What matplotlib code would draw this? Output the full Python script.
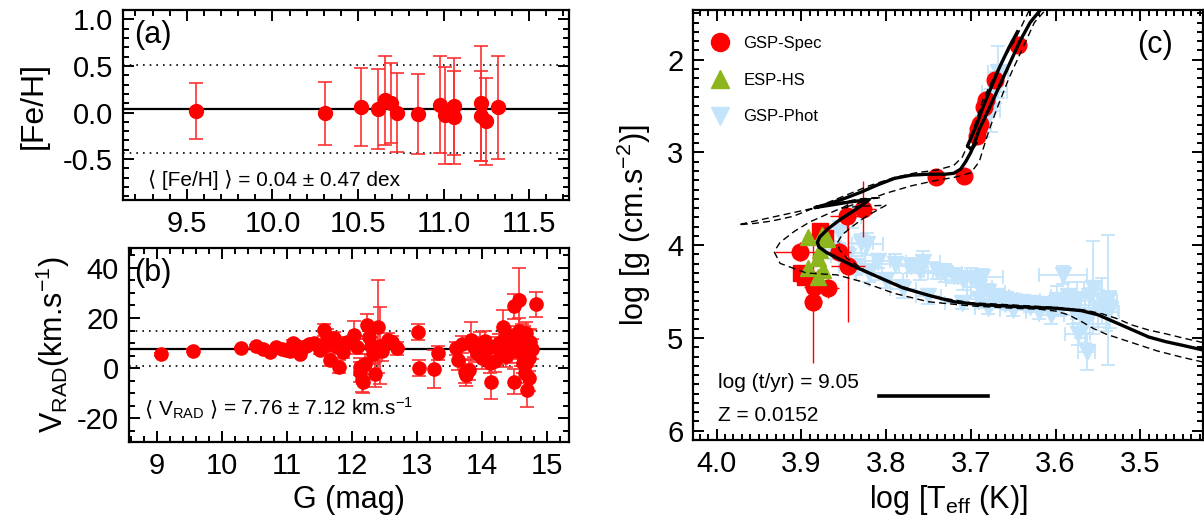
import numpy as np
import matplotlib
matplotlib.use("Agg")
import matplotlib.pyplot as plt
from matplotlib.ticker import MultipleLocator
from matplotlib.lines import Line2D
from matplotlib.offsetbox import TextArea, HPacker, AnchoredOffsetbox

plt.rcParams['font.family'] = ['Liberation Sans', 'DejaVu Sans']
plt.rcParams['mathtext.fontset'] = 'custom'
plt.rcParams['mathtext.rm'] = 'Liberation Sans'
plt.rcParams['mathtext.it'] = 'Liberation Sans:italic'
plt.rcParams['axes.unicode_minus'] = False

RED = '#ff0000'
GREEN = '#8db51e'
BLUE = '#c4e4fb'

# ---- panel (a): [Fe/H] vs G ----
g_a = [9.556, 10.305, 10.516, 10.617, 10.655, 10.695, 10.73, 10.85,
       10.98, 11.01, 11.06, 11.06, 11.22, 11.22, 11.25, 11.32]
feh_a = [0.02, -0.01, 0.06, 0.035, 0.13, 0.10, 0.0, -0.015,
         0.083, -0.03, -0.05, 0.065, 0.098, -0.036, -0.094, 0.054]
err_a = [0.30, 0.34, 0.42, 0.43, 0.48, 0.43, 0.42, 0.43,
         0.52, 0.52, 0.50, 0.52, 0.62, 0.48, 0.47, 0.55]
feh_mean, feh_sd = 0.04, 0.47

# ---- panel (b): Vrad vs G ----
g_b = [9.06, 9.56, 10.30, 10.52, 10.63, 10.74, 10.84, 10.92, 10.99, 11.05,
       11.09, 11.15, 11.20, 11.24, 11.30, 11.34, 11.42, 11.51,
       11.56, 11.58, 11.62, 11.65, 11.66, 11.72, 11.76, 11.81, 11.86, 11.92,
       11.97, 12.04, 12.08, 12.12, 12.13, 12.15, 12.18, 12.20, 12.24, 12.27,
       12.30, 12.33, 12.36, 12.40, 12.43, 12.46, 12.55, 12.62, 12.70,
       13.02, 13.04, 13.27, 13.32,
       13.61, 13.63, 13.70, 13.74, 13.76, 13.80, 13.84, 13.88, 13.92, 13.97,
       14.00, 14.05, 14.08, 14.12, 14.14, 14.20, 14.22, 14.26, 14.30, 14.32,
       14.36, 14.38, 14.40, 14.43, 14.46, 14.50, 14.50, 14.52, 14.55, 14.57,
       14.58, 14.60, 14.62, 14.64, 14.65, 14.66, 14.68, 14.68, 14.70, 14.72,
       14.72, 14.73, 14.75, 14.78, 14.84]
v_b = [5.5, 7.0, 7.9, 8.7, 7.5, 6.6, 8.3, 7.6, 7.3, 6.8,
       10.2, 9.0, 5.5, 8.0, 8.8, 9.8, 10.0, 7.3,
       8.5, 15.2, 12.5, 9.5, 3.3, 12.0, 9.0, 0.6, 6.5, 10.5,
       10.3, 13.3, 8.5, 0.6, -1.5, -4.7, -5.5, 1.5, 17.2, 12.5,
       9.0, 5.5, -2.5, 16.6, 9.0, 7.0, 11.2, 10.5, 7.9,
       14.6, 0.1, -0.4, 6.2,
       7.9, 3.2, 9.5, -1.4, -2.7, -0.8, 11.2, 8.5, 6.0, 9.5,
       4.0, 11.0, 7.5, 2.0, -5.4, 3.0, 8.5, 10.0, 6.5, 16.6,
       12.0, 5.0, 9.0, 13.0, 7.0, 24.6, -5.4, 11.0, 9.5, 15.0,
       27.2, 6.0, 12.5, 2.0, 12.4, -2.0, 1.9, 14.0, -8.7, -4.0,
       10.2, 4.0, 10.5, 7.5, 25.5]
e_b = [0.6, 0.6, 0.6, 0.7, 0.7, 0.7, 0.7, 0.8, 0.8, 0.8,
       0.9, 0.9, 1.0, 1.0, 1.0, 1.1, 1.3, 1.5,
       2.0, 2.5, 3.0, 2.5, 2.5, 2.5, 3.0, 2.5, 2.5, 2.0,
       2.0, 5.5, 3.0, 3.5, 4.0, 5.0, 4.5, 4.0, 4.5, 4.0,
       3.5, 4.0, 5.0, 18.5, 15.5, 4.0, 3.0, 2.5, 2.5,
       3.2, 3.3, 7.5, 2.8,
       2.5, 4.0, 3.5, 4.5, 4.5, 4.0, 7.4, 4.0, 3.5, 5.0,
       4.5, 4.0, 3.5, 4.0, 7.0, 4.5, 4.0, 3.5, 5.0, 6.4,
       4.5, 4.5, 3.5, 4.0, 5.0, 5.0, 5.0, 4.0, 6.0, 5.0,
       12.7, 5.0, 5.0, 4.0, 4.5, 4.0, 4.0, 4.5, 6.7, 5.0,
       5.0, 5.0, 5.0, 4.0, 5.0]
v_mean, v_sd = 7.76, 7.12

# ---- panel (c): Kiel diagram ----
iso_teff = [3.426, 3.45, 3.47, 3.49, 3.51, 3.53, 3.55, 3.57, 3.60, 3.63,
            3.66, 3.69, 3.72, 3.75, 3.78, 3.81, 3.835, 3.855, 3.87, 3.879,
            3.881, 3.878, 3.868, 3.855, 3.84, 3.827, 3.82,
            3.84, 3.86, 3.884,
            3.87, 3.85, 3.83, 3.81, 3.79, 3.77, 3.75, 3.73, 3.72, 3.712,
            3.706, 3.70, 3.695, 3.69, 3.682, 3.672, 3.662, 3.652, 3.642,
            3.63, 3.618]
iso_logg = [5.13, 5.08, 5.04, 4.99, 4.91, 4.83, 4.75, 4.705, 4.68, 4.67,
            4.655, 4.64, 4.61, 4.54, 4.46, 4.34, 4.24, 4.15, 4.08, 4.02,
            3.97, 3.91, 3.82, 3.73, 3.64, 3.56, 3.51,
            3.53, 3.56, 3.595,
            3.56, 3.50, 3.43, 3.35, 3.28, 3.245, 3.235, 3.235, 3.225, 3.18,
            3.10, 3.00, 2.88, 2.75, 2.60, 2.40, 2.20, 2.00, 1.80,
            1.60, 1.466]
agb_teff = [3.694, 3.699, 3.704, 3.700, 3.693, 3.686, 3.676, 3.666, 3.655, 3.645]
agb_logg = [2.90, 2.97, 2.93, 2.85, 2.70, 2.52, 2.30, 2.08, 1.87, 1.70]

dashA_teff = [3.426, 3.45, 3.48, 3.50, 3.52, 3.54, 3.555, 3.57, 3.585, 3.60,
              3.62, 3.65, 3.70, 3.75, 3.79, 3.83, 3.858, 3.894, 3.925, 3.932,
              3.925, 3.908, 3.89, 3.87, 3.85, 3.836, 3.806,
              3.83, 3.86, 3.90, 3.935, 3.96, 3.974,
              3.955, 3.935, 3.91, 3.885, 3.855, 3.82, 3.79, 3.765, 3.74, 3.72,
              3.71, 3.705, 3.695, 3.686, 3.668, 3.648, 3.631]
dashA_logg = [5.26, 5.21, 5.14, 5.08, 5.02, 4.96, 4.90, 4.82, 4.75, 4.71,
              4.69, 4.68, 4.655, 4.61, 4.52, 4.39, 4.32, 4.30, 4.196, 4.07,
              3.97, 3.85, 3.75, 3.668, 3.59, 3.523, 3.487,
              3.50, 3.55, 3.63, 3.70, 3.75, 3.78,
              3.765, 3.74, 3.69, 3.60, 3.49, 3.36, 3.27, 3.22, 3.19, 3.14,
              3.05, 2.95, 2.70, 2.44, 2.10, 1.79, 1.466]

dashB_teff = [3.426, 3.45, 3.47, 3.49, 3.51, 3.528, 3.545, 3.565, 3.60, 3.65,
              3.70, 3.74, 3.77, 3.80, 3.825, 3.845, 3.855, 3.857, 3.852, 3.84,
              3.825, 3.81, 3.80,
              3.83, 3.852,
              3.83, 3.80, 3.77, 3.74, 3.72, 3.70, 3.69, 3.685, 3.678, 3.668,
              3.655, 3.64, 3.625, 3.612]
dashB_logg = [5.05, 5.00, 4.955, 4.915, 4.86, 4.79, 4.74, 4.70, 4.67, 4.645,
              4.62, 4.56, 4.48, 4.38, 4.27, 4.15, 4.05, 3.97, 3.89, 3.80,
              3.70, 3.62, 3.57,
              3.58, 3.60,
              3.54, 3.44, 3.36, 3.30, 3.27, 3.22, 3.10, 2.95, 2.75, 2.50,
              2.20, 1.90, 1.60, 1.466]

spec_teff = [3.644, 3.671, 3.682, 3.684, 3.689, 3.691, 3.693, 3.741, 3.708,
             3.846, 3.827, 3.901, 3.856, 3.845, 3.886, 3.868, 3.885]
spec_logg = [1.845, 2.22, 2.44, 2.51, 2.69, 2.75, 2.82, 3.27, 3.25,
             3.69, 3.61, 4.07, 4.07, 4.225, 4.61, 4.465, 4.45]
spec_eteff = [0.004, 0.004, 0.005, 0.005, 0.005, 0.005, 0.005, 0.005, 0.005,
              0.02, 0.015, 0.03, 0.015, 0.02, 0.01, 0.012, 0.012]
spec_elogg = [0.05, 0.05, 0.06, 0.06, 0.06, 0.06, 0.06, 0.05, 0.05,
              0.15, 0.3, 0.1, 0.1, 0.6, 0.66, 0.1, 0.1]

sq_teff = [3.878, 3.872, 3.896, 3.90, 3.885]
sq_logg = [3.85, 3.92, 4.34, 4.30, 4.38]

hs_teff = [3.892, 3.876, 3.870, 3.880, 3.892, 3.874, 3.880, 3.878]
hs_logg = [3.91, 3.89, 3.93, 4.14, 4.25, 4.27, 4.34, 4.05]

phot_teff = [3.668, 3.676, 3.686, 3.672, 3.855, 3.83, 3.822, 3.84, 3.86, 3.845,
             3.81, 3.79, 3.77, 3.756, 3.74, 3.73, 3.72, 3.709, 3.70, 3.687,
             3.69, 3.68, 3.67, 3.66, 3.65, 3.64, 3.63, 3.62, 3.61, 3.60,
             3.595, 3.591, 3.585, 3.58, 3.575, 3.574, 3.57, 3.565, 3.563, 3.56,
             3.556, 3.55, 3.545, 3.54, 3.538, 3.536, 3.598, 3.605, 3.62, 3.65,
             3.68, 3.71, 3.75, 3.78, 3.80, 3.82, 3.835, 3.76, 3.69, 3.66, 3.63]
phot_logg = [2.13, 2.55, 2.68, 2.35, 3.86, 3.98, 3.99, 3.70, 4.05, 4.12,
             4.17, 4.20, 4.22, 4.18, 4.28, 4.30, 4.33, 4.38, 4.35, 4.34,
             4.45, 4.50, 4.55, 4.58, 4.60, 4.61, 4.62, 4.63, 4.64, 4.62,
             4.66, 4.32, 4.55, 4.70, 4.60, 4.96, 4.75, 4.85, 5.15, 4.55,
             4.46, 4.68, 4.60, 4.72, 4.59, 4.69, 4.59, 4.75, 4.72, 4.70,
             4.68, 4.62, 4.55, 4.47, 4.38, 4.30, 4.22, 4.28, 4.58, 4.63, 4.67]
phot_eteff = [0.012, 0.010, 0.008, 0.015, 0.01, 0.015, 0.018, 0.01, 0.012, 0.02,
              0.015, 0.02, 0.015, 0.02, 0.015, 0.02, 0.015, 0.02, 0.015, 0.025,
              0.015, 0.02, 0.015, 0.015, 0.02, 0.015, 0.015, 0.015, 0.015, 0.02,
              0.015, 0.028, 0.02, 0.015, 0.01, 0.015, 0.02, 0.015, 0.01, 0.015,
              0.01, 0.015, 0.01, 0.015, 0.01, 0.01, 0.02, 0.015, 0.015, 0.015,
              0.015, 0.02, 0.015, 0.015, 0.02, 0.015, 0.02, 0.015, 0.015, 0.015, 0.02]
phot_elogg = [0.28, 0.23, 0.15, 0.12, 0.12, 0.10, 0.12, 0.12, 0.10, 0.10,
              0.08, 0.10, 0.08, 0.12, 0.08, 0.10, 0.08, 0.10, 0.10, 0.08,
              0.10, 0.08, 0.06, 0.05, 0.05, 0.05, 0.05, 0.05, 0.06, 0.08,
              0.10, 0.10, 0.15, 0.15, 0.20, 0.12, 0.25, 0.20, 0.20, 0.15,
              0.50, 0.20, 0.25, 0.20, 0.70, 0.20, 0.15, 0.10, 0.08, 0.06,
              0.06, 0.07, 0.08, 0.10, 0.08, 0.10, 0.10, 0.10, 0.05, 0.05, 0.05]

legend_line_teff = [3.808, 3.68]
legend_line_logg = [5.63, 5.63]

TICK = 21


def style(ax, xmaj, xmin, ymaj, ymin):
    ax.xaxis.set_major_locator(MultipleLocator(xmaj))
    ax.xaxis.set_minor_locator(MultipleLocator(xmin))
    ax.yaxis.set_major_locator(MultipleLocator(ymaj))
    ax.yaxis.set_minor_locator(MultipleLocator(ymin))
    ax.tick_params(which='both', direction='in', top=True, right=True,
                   width=1.4, labelsize=TICK)
    ax.tick_params(which='major', length=8, pad=7)
    ax.tick_params(which='minor', length=4)
    for s in ax.spines.values():
        s.set_linewidth(1.6)


fig = plt.figure(figsize=(12.04, 5.23), dpi=100)

# panel (a)
ax1 = fig.add_axes([0.102, 0.6176, 0.371, 0.363])
ax1.axhline(feh_mean, color='k', lw=1.6, zorder=1)
ax1.axhline(feh_mean + feh_sd, color='k', lw=1.2, ls=(0, (1, 3)), zorder=1)
ax1.axhline(feh_mean - feh_sd, color='k', lw=1.2, ls=(0, (1, 3)), zorder=1)
ax1.errorbar(g_a, feh_a, yerr=err_a, fmt='o', color=RED, ms=10,
             ecolor='#ff3030', elinewidth=1.2, capsize=5, capthick=1.2, zorder=3)
ax1.set_xlim(9.126, 11.735)
ax1.set_ylim(-0.94, 1.1)
style(ax1, 0.5, 0.1, 0.5, 0.1)
ax1.set_ylabel('[Fe/H]', fontsize=23, labelpad=10)
ax1.text(0.025, 0.95, '(a)', transform=ax1.transAxes, fontsize=22, va='top')
ax1.text(0.056, 0.105, '\u27e8 [Fe/H] \u27e9 = 0.04 \u00b1 0.47 dex',
         transform=ax1.transAxes, fontsize=15, va='center')

# panel (b)
ax2 = fig.add_axes([0.107, 0.155, 0.366, 0.371])
ax2.axhline(v_mean, color='k', lw=1.6, zorder=1)
ax2.axhline(v_mean + v_sd, color='k', lw=1.2, ls=(0, (1, 3)), zorder=1)
ax2.axhline(v_mean - v_sd, color='k', lw=1.2, ls=(0, (1, 3)), zorder=1)
ax2.errorbar(g_b, v_b, yerr=e_b, fmt='o', color=RED, ms=9.5,
             ecolor='#ff3030', elinewidth=1.2, capsize=5, capthick=1.2, zorder=3)
ax2.set_xlim(8.57, 15.35)
ax2.set_ylim(-29.5, 48)
style(ax2, 1, 0.2, 20, 5)
ax2.set_xlabel('G (mag)', fontsize=22, labelpad=4)
ax2.set_ylabel('V$_{\\rm RAD}$(km.s$^{-1}$)', fontsize=22, labelpad=4)
ax2.text(0.012, 0.95, '(b)', transform=ax2.transAxes, fontsize=22, va='top')

# mean Vrad label: pieces so the angle brackets can fall back to DejaVu
tp = dict(fontsize=15)
pieces = [TextArea('\u27e8', textprops=tp),
          TextArea('V$_{\\rm RAD}$', textprops=tp),
          TextArea('\u27e9', textprops=tp),
          TextArea('= 7.76 \u00b1 7.12 km.s$^{-1}$', textprops=tp)]
box = HPacker(children=pieces, align='baseline', pad=0, sep=4)
anch = AnchoredOffsetbox(loc='center left', child=box, pad=0, borderpad=0,
                         frameon=False, bbox_to_anchor=(0.035, 0.17),
                         bbox_transform=ax2.transAxes)
ax2.add_artist(anch)

# panel (c)
ax3 = fig.add_axes([0.5756, 0.1587, 0.4236, 0.822])
ax3.errorbar(phot_teff, phot_logg, xerr=phot_eteff, yerr=phot_elogg, fmt='v',
             color=BLUE, ms=11, ecolor=BLUE, elinewidth=1.3, capsize=5,
             capthick=1.3, zorder=1)
ax3.plot(sq_teff, sq_logg, 's', color=RED, ms=11, zorder=3)
ax3.errorbar(spec_teff, spec_logg, xerr=spec_eteff, yerr=spec_elogg, fmt='o',
             color=RED, ms=12, ecolor=RED, elinewidth=1.0, zorder=3)
ax3.plot(hs_teff, hs_logg, '^', color=GREEN, ms=12, zorder=4)
ax3.plot(dashA_teff, dashA_logg, color='k', lw=1.0, ls=(0, (5, 3)), zorder=5)
ax3.plot(dashB_teff, dashB_logg, color='k', lw=1.0, ls=(0, (5, 3)), zorder=5)
ax3.plot(iso_teff, iso_logg, color='k', lw=2.4, zorder=6)
ax3.plot(agb_teff, agb_logg, color='k', lw=2.4, zorder=6)
ax3.plot(legend_line_teff, legend_line_logg, color='k', lw=2.6)
ax3.set_xlim(4.0277, 3.426)
ax3.set_ylim(6.1, 1.466)
style(ax3, 0.1, 0.01, 1, 0.1)
ax3.set_xlabel('log [T$_{\\rm eff}$ (K)]', fontsize=22, labelpad=4)
ax3.set_ylabel('log [g (cm.s$^{-2}$)]', fontsize=22, labelpad=10)
ax3.text(0.905, 0.9, '(c)', transform=ax3.transAxes, fontsize=22, ha='center')
ax3.text(0.049, 0.133, 'log (t/yr) = 9.05', transform=ax3.transAxes,
         fontsize=15, va='center')
ax3.text(0.049, 0.056, 'Z = 0.0152', transform=ax3.transAxes,
         fontsize=15, va='center')

handles = [Line2D([], [], ls='none', marker='o', color=RED, ms=13),
           Line2D([], [], ls='none', marker='^', color=GREEN, ms=13),
           Line2D([], [], ls='none', marker='v', color=BLUE, ms=13)]
ax3.legend(handles, ['GSP-Spec', 'ESP-HS', 'GSP-Phot'], loc='upper left',
           bbox_to_anchor=(0.02, 0.955), frameon=False, fontsize=12,
           labelspacing=1.3, handletextpad=0.8, borderaxespad=0,
           handlelength=1.2)

fig.savefig('out.png', dpi=100)
